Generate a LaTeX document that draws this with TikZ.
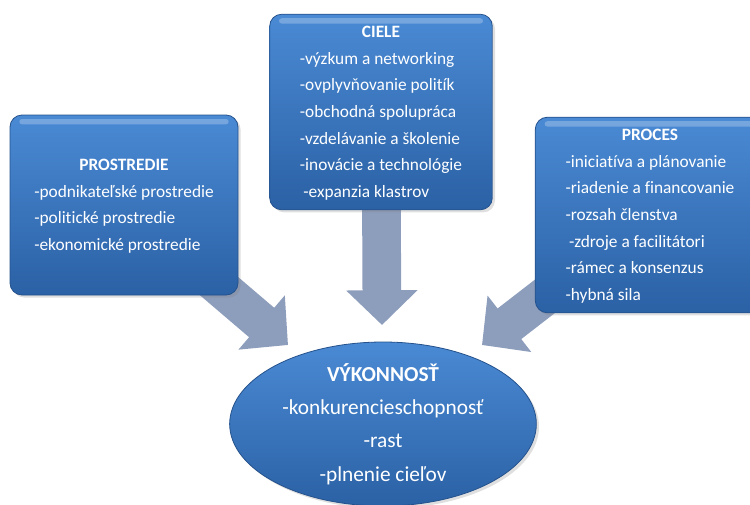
\documentclass[tikz,border=0pt]{standalone}
\usepackage{fontspec}
\setmainfont{Carlito}[Ligatures=NoCommon]
\usetikzlibrary{arrows.meta, shapes.geometric, shadows, backgrounds}

\definecolor{boxtop}{HTML}{4A8AD4}
\definecolor{boxbot}{HTML}{2B61A5}
\definecolor{arrowgray}{HTML}{8D9DBC}

\begin{document}
\begin{tikzpicture}[x=0.75pt, y=-0.75pt,
  blok/.style={rounded corners=9pt, top color=boxtop, bottom color=boxbot,
    draw=boxbot!85!black, line width=0.6pt, text=white,
    font=\fontsize{13}{20}\selectfont,
    drop shadow={opacity=0.25, shadow xshift=2pt, shadow yshift=-2pt},
    path picture={\fill[white, opacity=0.25, rounded corners=2pt]
      ([xshift=7pt, yshift=-3pt]path picture bounding box.north west) rectangle
      ([xshift=-7pt, yshift=-7pt]path picture bounding box.north east);}},
  vykonstyle/.style={ellipse, top color=boxtop, bottom color=boxbot,
    draw=boxbot!85!black, line width=0.6pt,
    drop shadow={opacity=0.25, shadow xshift=2pt, shadow yshift=-2pt}},
  sipka/.style={draw=arrowgray, line width=29pt,
    -{Triangle[width=52pt, length=26pt]}}]

\useasboundingbox (0,0) rectangle (750,504);

% Prostredie
\node[blok, minimum width=171pt, minimum height=135pt] (prostredie) at (124,205)
{\begin{tabular}{@{}l@{}}
\multicolumn{1}{c}{\textbf{PROSTREDIE}}\\
-podnikateľské prostredie\\
-politické prostredie\\
-ekonomické prostredie
\end{tabular}};

% Ciele
\node[blok, minimum width=167pt, minimum height=146pt] (ciele) at (381,112)
{\begin{tabular}{@{}l@{}}
\multicolumn{1}{c}{\textbf{CIELE}}\\
-výzkum a networking\\
-ovplyvňovanie politík\\
-obchodná spolupráca\\
-vzdelávanie a školenie\\
-inovácie a technológie\\
\hspace{0.2em}-expanzia klastrov
\end{tabular}};

% Proces
\node[blok, minimum width=172pt, minimum height=146pt] (proces) at (650,215)
{\begin{tabular}{@{}l@{}}
\multicolumn{1}{c}{\textbf{PROCES}}\\
-iniciatíva a plánovanie\\
-riadenie a financovanie\\
-rozsah členstva\\
\hspace{0.2em}-zdroje a facilitátori\\
-rámec a konsenzus\\
-hybná sila
\end{tabular}};

% Vykonnost
\node[vykonstyle, minimum width=230pt, minimum height=123pt] (vykon) at (383,424) {};
\node[text=white, align=center, font=\fontsize{16}{25}\selectfont] (vykontext) at (vykon.center)
{\textbf{VÝKONNOSŤ}\\ -konkurencieschopnosť\\ -rast\\ -plnenie cieľov};

% Sipky
\coordinate (tipL) at (288,345);
\coordinate (tipC) at (382,325);
\coordinate (tipR) at (482,345);
\begin{scope}[on background layer]
\draw[sipka] (prostredie.center) -- (tipL);
\draw[sipka] (ciele.center) -- (tipC);
\draw[sipka] (proces.center) -- (tipR);
\end{scope}

\end{tikzpicture}
\end{document}
